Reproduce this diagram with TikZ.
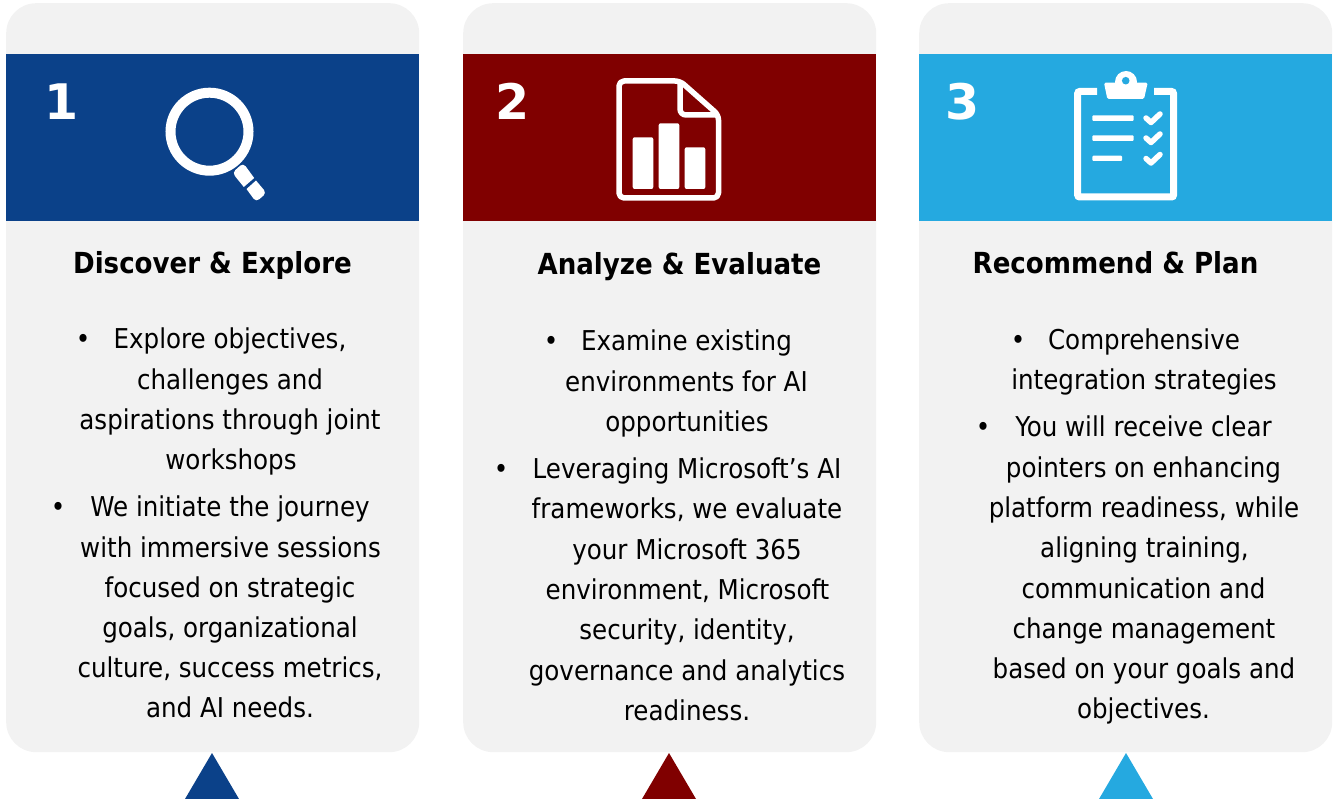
\documentclass[tikz,border=0pt]{standalone}
\usepackage{fontspec}
\setmainfont{DejaVu Sans Condensed}[BoldFont={DejaVu Sans Condensed Bold}]
\newfontfamily\numfont{DejaVu Sans Bold}
\definecolor{cardgray}{HTML}{F2F2F2}
\definecolor{bandblue}{HTML}{0B4189}
\definecolor{bandred}{HTML}{800000}
\definecolor{bandsky}{HTML}{25A9E0}
\tikzset{
  card/.style={fill=cardgray,rounded corners=30pt,minimum width=413pt,minimum height=749pt,inner sep=0pt,anchor=north west},
  band/.style={minimum width=413pt,minimum height=167pt,inner sep=0pt,anchor=north west},
  line text/.style={font=\fontsize{27.3pt}{30pt}\selectfont,text=black,inner sep=0pt,anchor=base},
  bullet mark/.style={font=\fontsize{27.3pt}{30pt}\selectfont,text=black,inner sep=0pt,anchor=base},
  title text/.style={font=\fontsize{29pt}{32pt}\selectfont\bfseries,text=black,inner sep=0pt,anchor=base},
  num text/.style={font=\fontsize{49pt}{52pt}\selectfont\numfont,text=white,inner sep=0pt,anchor=base},
  icon line/.style={draw=white,line width=5.5pt,line cap=round,line join=round},
  icon fill/.style={fill=white,draw=none}
}
\begin{document}
\begin{tikzpicture}[x=1pt,y=-1pt]
\useasboundingbox (0,0) rectangle (1337,799);
% cards
\node[card] (card1) at (6,3) {};
\node[card] (card2) at (463,3) {};
\node[card] (card3) at (919,3) {};
% bands
\node[band,fill=bandblue] (band1) at (6,54) {};
\node[band,fill=bandred] (band2) at (463,54) {};
\node[band,fill=bandsky] (band3) at (919,54) {};
% triangles
\fill[bandblue] (185,799) -- (212,753) -- (239,799) -- cycle;
\fill[bandred] (642,799) -- (669,753) -- (696,799) -- cycle;
\fill[bandsky] (1099,799) -- (1126,753) -- (1153,799) -- cycle;
% numbers
\node[num text] (num1) at (62,120) {1};
\node[num text] (num2) at (513,120) {2};
\node[num text] (num3) at (963,120) {3};
% magnifier
\draw[white,line width=10pt] (209.5,131.7) circle (39pt);
\fill[white] (243.8,187) [rounded corners=4pt] -- (232.3,172.8) -- (243.2,163) [sharp corners] -- (254.2,178) -- cycle;
\fill[white] (256,180.5) [rounded corners=4pt] -- (266.5,193) -- (256,202) [sharp corners] -- (246.5,189) -- cycle;
% document
\draw[draw=white,line width=5.5pt,line join=round,rounded corners=5pt] (650,81) -- (619,81) -- (619,198) -- (718.5,198) -- (718.5,115) -- (680,81) -- cycle;
\draw[draw=white,line width=5.5pt,rounded corners=6pt] (680,84) -- (680,115) -- (716,115);
\fill[white,rounded corners=2pt] (632.7,137.3) rectangle (653.3,189);
\fill[white,rounded corners=2pt] (658.7,123.3) rectangle (679.3,189);
\fill[white,rounded corners=2pt] (684.7,147.3) rectangle (705.3,189);
% clipboard
\draw[white,line width=7pt,rounded corners=2pt] (1097,91.5) -- (1077.7,91.5) -- (1077.7,197) -- (1173.5,197) -- (1173.5,91.5) -- (1154,91.5);
\fill[white,rounded corners=1.5pt] (1104,82.7) -- (1147.7,82.7) -- (1144,99) -- (1107.3,99) -- cycle;
\fill[white] (1126,82) circle (11pt);
\fill[bandsky] (1125.7,80.7) circle (3.8pt);
\fill[white,rounded corners=1pt] (1092.3,115.3) rectangle (1133.7,121);
\fill[white,rounded corners=1pt] (1092.3,135.3) rectangle (1133.7,141);
\fill[white,rounded corners=1pt] (1092.3,155.7) rectangle (1122,161);
\draw[icon line] (1146,118) -- (1151,122.5) -- (1160,114);
\draw[icon line] (1146,138) -- (1151,142.5) -- (1160,134);
\draw[icon line] (1146,158.5) -- (1151,163) -- (1160,154.5);
% titles
\node[title text] (t1) at (212.5,274) {Discover \& Explore};
\node[title text] (t2) at (679.5,275) {Analyze \& Evaluate};
\node[title text] (t3) at (1115.5,274) {Recommend \& Plan};
% column 1
\node[bullet mark] (b11) at (83,348) {•};
\node[line text] (a1) at (230,348) {Explore objectives,};
\node[line text] (a2) at (230,389) {challenges and};
\node[line text] (a3) at (230,429) {aspirations through joint};
\node[line text] (a4) at (231,469) {workshops};
\node[bullet mark] (b12) at (58,516) {•};
\node[line text] (a5) at (230,516) {We initiate the journey};
\node[line text] (a6) at (230.5,557) {with immersive sessions};
\node[line text] (a7) at (230,597) {focused on strategic};
\node[line text] (a8) at (230,637) {goals, organizational};
\node[line text] (a9) at (230,677) {culture, success metrics,};
\node[line text] (a10) at (230,717) {and AI needs.};
% column 2
\node[bullet mark] (b21) at (551,350) {•};
\node[line text] (c1) at (686.5,350) {Examine existing};
\node[line text] (c2) at (686.5,391) {environments for AI};
\node[line text] (c3) at (687,431) {opportunities};
\node[bullet mark] (b22) at (501,478) {•};
\node[line text] (c4) at (687,478) {Leveraging Microsoft’s AI};
\node[line text] (c5) at (687,518) {frameworks, we evaluate};
\node[line text] (c6) at (687,559) {your Microsoft 365};
\node[line text] (c7) at (687.5,599) {environment, Microsoft};
\node[line text] (c8) at (687,639) {security, identity,};
\node[line text] (c9) at (687,680) {governance and analytics};
\node[line text] (c10) at (687,720) {readiness.};
% column 3
\node[bullet mark] (b31) at (1018,349) {•};
\node[line text] (d1) at (1144,349) {Comprehensive};
\node[line text] (d2) at (1144,389) {integration strategies};
\node[bullet mark] (b32) at (983,436) {•};
\node[line text] (d3) at (1143.5,436) {You will receive clear};
\node[line text] (d4) at (1143.5,477) {pointers on enhancing};
\node[line text] (d5) at (1144,517) {platform readiness, while};
\node[line text] (d6) at (1144.5,557) {aligning training,};
\node[line text] (d7) at (1143.5,598) {communication and};
\node[line text] (d8) at (1144,638) {change management};
\node[line text] (d9) at (1144,678) {based on your goals and};
\node[line text] (d10) at (1143.5,718) {objectives.};
\end{tikzpicture}
\end{document}
